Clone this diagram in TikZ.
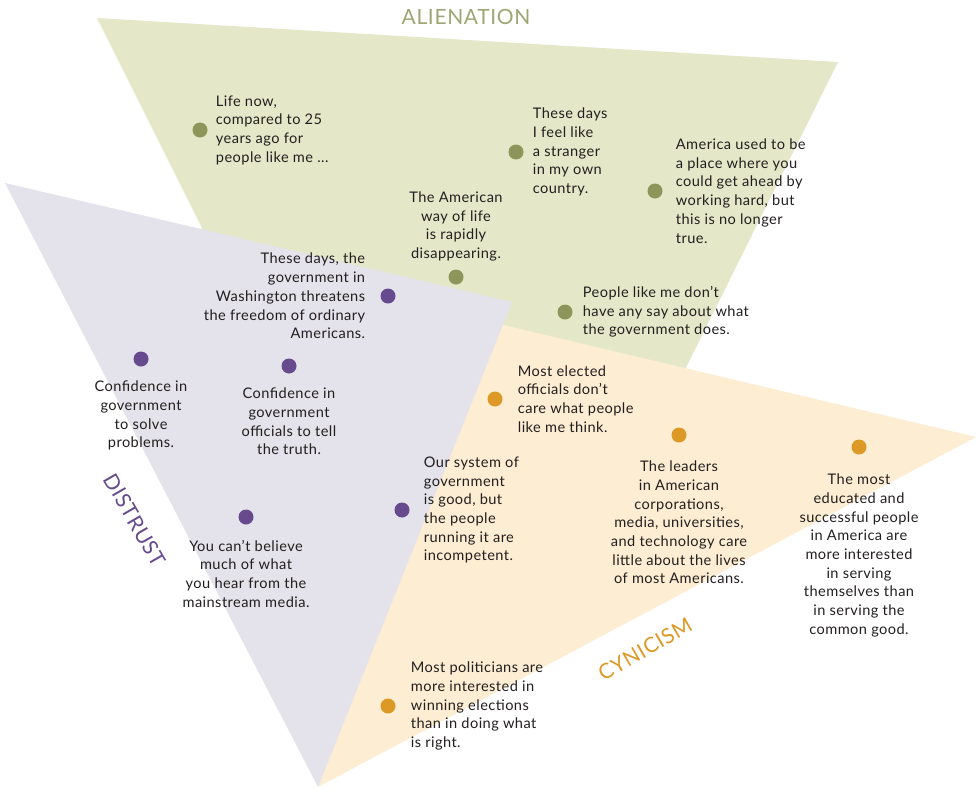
\documentclass[tikz,border=0pt]{standalone}
\usepackage{fontspec}
\setmainfont{Lato}[LetterSpace=3]
\usetikzlibrary{positioning}

\definecolor{alienfill}{RGB}{228,232,201}
\definecolor{distfill}{RGB}{228,226,234}
\definecolor{cynfill}{RGB}{253,237,210}
\definecolor{aliendot}{RGB}{142,149,90}
\definecolor{distdot}{RGB}{103,74,141}
\definecolor{cyndot}{RGB}{221,153,38}
\definecolor{txtgray}{RGB}{35,31,32}

\tikzset{
  itemdot/.style={circle, fill=#1, minimum size=15pt, inner sep=0pt},
  stmt/.style={inner sep=0pt, text=txtgray, font=\fontsize{14.6}{18.7}\selectfont},
  heading/.style={inner sep=0pt, text=#1, font=\fontsize{21}{24}\selectfont},
}

\begin{document}
\begin{tikzpicture}[x=1pt,y=-1pt]
  \useasboundingbox (0,0) rectangle (976,790);
  % alienation
  \fill[alienfill] (97,18) -- (838,62) -- (660,420) -- (298,420) -- cycle;
  % cynicism
  \fill[cynfill] (440,310) -- (976,437) -- (318,787) -- cycle;
  % distrust
  \fill[distfill] (5,183) -- (512,302) -- (318,787) -- cycle;

  % titulos
  \node[heading=aliendot!85] (alien) at (466,17) {ALIENATION};
  \node[heading=distdot, rotate=-60] (dist) at (135,520) {DISTRUST};
  \node[heading=cyndot, rotate=30] (cyn) at (645,649) {CYNICISM};

  % alienation items
  \node[itemdot=aliendot] (a1) at (200,130) {};
  \node[stmt, right=8pt of a1, align=left] (a1t) {Life now,\\compared to 25\\years ago for\\people like me ...};
  \node[itemdot=aliendot] (a2) at (516,152) {};
  \node[stmt, right=9pt of a2, align=left] (a2t) {These days\\I feel like\\a stranger\\in my own\\country.};
  \node[itemdot=aliendot] (a3) at (655,191) {};
  \node[stmt, right=13pt of a3, align=left] (a3t) {America used to be\\a place where you\\could get ahead by\\working hard, but\\this is no longer\\true.};
  \node[itemdot=aliendot] (a4) at (456,277) {};
  \node[stmt, above=8pt of a4, align=center] (a4t) {The American\\way of life\\is rapidly\\disappearing.};
  \node[itemdot=aliendot] (a5) at (565,312) {};
  \node[stmt, right=10pt of a5, align=left] (a5t) {People like me don't\\have any say about what\\the government does.};

  % distrust items
  \node[itemdot=distdot] (d1) at (388,296) {};
  \node[stmt, left=15pt of d1, align=right] (d1t) {These days, the\\government in\\Washington threatens\\the freedom of ordinary\\Americans.};
  \node[itemdot=distdot] (d2) at (141,359) {};
  \node[stmt, below=14pt of d2, align=center] (d2t) {Confidence in\\government\\to solve\\problems.};
  \node[itemdot=distdot] (d3) at (289,366) {};
  \node[stmt, below=14pt of d3, align=center] (d3t) {Confidence in\\government\\officials to tell\\the truth.};
  \node[itemdot=distdot] (d4) at (246,517) {};
  \node[stmt, below=15pt of d4, align=center] (d4t) {You can't believe\\much of what\\you hear from the\\mainstream media.};
  \node[itemdot=distdot] (d5) at (402,510) {};
  \node[stmt, right=14pt of d5, align=left] (d5t) {Our system of\\government\\is good, but\\the people\\running it are\\incompetent.};

  % cynicism items
  \node[itemdot=cyndot] (c1) at (495,399) {};
  \node[stmt, right=15pt of c1, align=left] (c1t) {Most elected\\officials don't\\care what people\\like me think.};
  \node[itemdot=cyndot] (c2) at (679,435) {};
  \node[stmt, below=18pt of c2, align=center] (c2t) {The leaders\\in American\\corporations,\\media, universities,\\and technology care\\little about the lives\\of most Americans.};
  \node[itemdot=cyndot] (c3) at (859,447) {};
  \node[stmt, below=19pt of c3, align=center] (c3t) {The most\\educated and\\successful people\\in America are\\more interested\\in serving\\themselves than\\in serving the\\common good.};
  \node[itemdot=cyndot] (c4) at (388,706) {};
  \node[stmt, right=15pt of c4, align=left] (c4t) {Most politicians are\\more interested in\\winning elections\\than in doing what\\is right.};
\end{tikzpicture}
\end{document}
